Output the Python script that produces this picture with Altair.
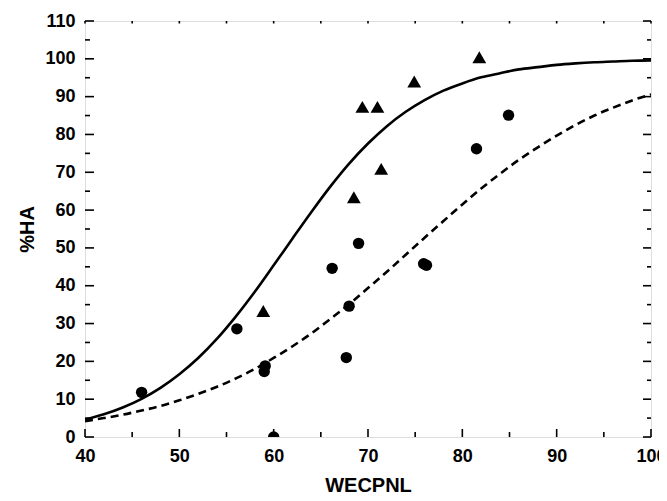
import altair as alt
import pandas as pd

tri_x = [58.9, 68.5, 69.4, 71.0, 71.4, 74.9, 81.8]
tri_y = [33.3, 63.4, 87.3, 87.3, 70.9, 94.0, 100.4]

circ_x = [46.0, 56.1, 59.1, 59.0, 60.0, 66.2, 67.7, 68.0, 69.0, 75.9, 76.2, 81.5, 84.9]
circ_y = [11.8, 28.6, 18.8, 17.3, 0.0, 44.6, 21.0, 34.6, 51.2, 45.8, 45.4, 76.2, 85.1]

# Curves read at every 2 WECPNL
curve_x = [40, 42, 44, 46, 48, 50, 52, 54, 56, 58, 60, 62, 64, 66, 68, 70,
           72, 74, 76, 78, 80, 82, 84, 86, 88, 90, 92, 94, 96, 98, 100]
solid_y = [4.6, 6.0, 7.8, 10.1, 13.0, 16.6, 20.9, 26.0, 31.9, 38.4, 45.4, 52.5,
           59.5, 66.2, 72.3, 77.6, 82.2, 86.0, 89.1, 91.6, 93.5, 95.1, 96.2, 97.2,
           97.8, 98.4, 98.8, 99.1, 99.3, 99.5, 99.6]
dashed_y = [4.2, 5.0, 5.9, 7.0, 8.2, 9.7, 11.4, 13.3, 15.5, 18.0, 20.9, 24.0,
            27.4, 31.2, 35.1, 39.4, 43.7, 48.2, 52.7, 57.1, 61.5, 65.7, 69.6, 73.3,
            76.6, 79.7, 82.5, 85.0, 87.1, 89.0, 90.6]

x_major = [40, 50, 60, 70, 80, 90, 100]
x_minor = [45, 55, 65, 75, 85, 95]
x_all = [40, 45, 50, 55, 60, 65, 70, 75, 80, 85, 90, 95, 100]
y_major = [0, 10, 20, 30, 40, 50, 60, 70, 80, 90, 100, 110]
y_minor = [5, 15, 25, 35, 45, 55, 65, 75, 85, 95, 105]

W, H = 566, 416
FONT = "Liberation Sans"

xs = alt.Scale(domain=[40, 100], nice=False, zero=False)
ys = alt.Scale(domain=[0, 110], nice=False, zero=False)

xaxis = alt.Axis(values=x_major, ticks=False, domain=False, grid=False,
                 labelFont=FONT, labelFontSize=18, labelFontWeight="bold",
                 labelColor="black", labelPadding=10, labelFlush=False,
                 labelOverlap=False,
                 title="WECPNL", titleFont=FONT, titleFontSize=20,
                 titleFontWeight="bold", titleColor="black",
                 titleBaseline="alphabetic", titleY=54)
yaxis = alt.Axis(values=y_major, ticks=False, domain=False, grid=False,
                 labelFont=FONT, labelFontSize=18, labelFontWeight="bold",
                 labelColor="black", labelPadding=10, labelFlush=False,
                 labelOverlap=False,
                 title="%HA", titleFont=FONT, titleFontSize=20,
                 titleFontWeight="bold", titleColor="black",
                 titleBaseline="middle", titleX=-58, titleY=H / 2)

curves = pd.DataFrame({"x": curve_x, "solid": solid_y, "dashed": dashed_y})
tri = pd.DataFrame({"x": tri_x, "y": tri_y})
circ = pd.DataFrame({"x": circ_x, "y": circ_y})


def X(field):
    return alt.X(field, scale=xs, axis=xaxis)


def Y(field):
    return alt.Y(field, scale=ys, axis=yaxis)


solid = alt.Chart(curves).mark_line(color="black", strokeWidth=2.6,
                                    interpolate="monotone", clip=True).encode(
    x=X("x:Q"), y=Y("solid:Q"))
dashed = alt.Chart(curves).mark_line(color="black", strokeWidth=2.6,
                                     strokeDash=[8, 5], interpolate="monotone",
                                     clip=True).encode(
    x=X("x:Q"), y=Y("dashed:Q"))
tri_pts = alt.Chart(tri).mark_point(shape="triangle-up", filled=True, color="black",
                                    opacity=1, size=190, clip=True).encode(
    x=X("x:Q"), y=Y("y:Q"))
circ_pts = alt.Chart(circ).mark_point(shape="circle", filled=True, color="black",
                                      opacity=1, size=130, clip=True).encode(
    x=X("x:Q"), y=Y("y:Q"))


def xticks(vals, y1, y2):
    return alt.Chart(pd.DataFrame({"v": vals})).mark_rule(
        color="black", strokeWidth=1.6).encode(
        x=X("v:Q"), y=alt.value(y1), y2=alt.value(y2))


def yticks(vals, x1, x2):
    return alt.Chart(pd.DataFrame({"v": vals})).mark_rule(
        color="black", strokeWidth=1.6).encode(
        y=Y("v:Q"), x=alt.value(x1), x2=alt.value(x2))


ticks = [
    xticks(x_major, H, H - 8),
    xticks(x_minor, H, H - 5),
    xticks(x_all, 0, 2.5),
    yticks(y_major, 0, 9),
    yticks(y_minor, 0, 5),
    yticks(y_major, W, W - 8),
    yticks(y_minor, W, W - 4),
]

chart = alt.layer(solid, dashed, tri_pts, circ_pts, *ticks).properties(
    width=W, height=H,
    autosize=alt.AutoSizeParams(type="none"),
    padding={"left": 77, "top": 13, "right": 8, "bottom": 56},
).configure_view(stroke="black", strokeWidth=2).configure(background="white")

chart.save("out.html", embed_options={"renderer": "svg", "actions": False})
